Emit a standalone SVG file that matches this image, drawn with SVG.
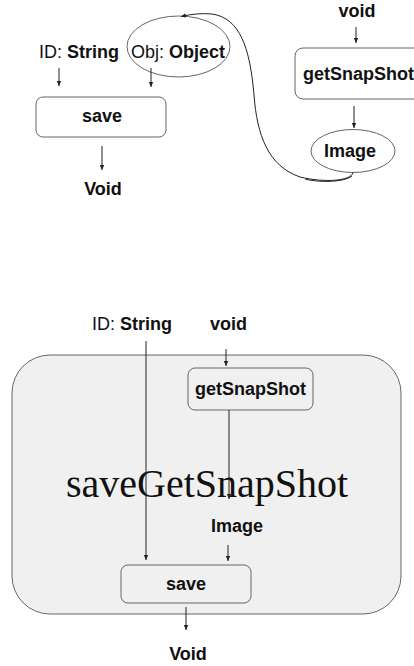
<svg xmlns="http://www.w3.org/2000/svg" width="414" height="666" viewBox="0 0 414 666">
<defs>
<marker id="ah" markerWidth="6" markerHeight="6" refX="5" refY="3" orient="auto" markerUnits="userSpaceOnUse">
<path d="M0,0.8 L5,3 L0,5.2 Z" fill="#222"/>
</marker>
<style>
.t{font-family:"Liberation Sans",Arial,sans-serif;font-size:18px;fill:#111}
.b{font-weight:bold}
.box{fill:#fff;stroke:#666;stroke-width:1}
.gbox{fill:#f0f0f0;stroke:#666;stroke-width:1}
.c{stroke:#222;stroke-width:1;fill:none}
.a{stroke:#222;stroke-width:1;fill:none;marker-end:url(#ah)}
</style>
</defs>
<rect width="414" height="666" fill="#fff"/>
<!-- top diagram -->
<g id="idString1"><text class="t" x="39" y="58">ID: <tspan class="b">String</tspan></text></g>
<g id="objEllipse"><ellipse cx="178.5" cy="46.5" rx="51.5" ry="30.5" fill="none" stroke="#666"/><text class="t" x="131" y="58">Obj: <tspan class="b">Object</tspan></text></g>
<g id="save1"><rect class="box" x="36" y="97" width="130" height="40" rx="7"/><text class="t b" x="102" y="122" text-anchor="middle">save</text></g>
<g id="void1out"><text class="t b" x="103" y="195" text-anchor="middle">Void</text></g>
<g id="void1in"><text class="t b" x="357" y="17" text-anchor="middle">void</text></g>
<g id="getSnap1"><rect class="box" x="295" y="48" width="130" height="51" rx="8"/><text class="t b" x="303" y="80">getSnapShot</text></g>
<g id="image1"><ellipse cx="353" cy="151" rx="42" ry="21.5" fill="none" stroke="#666"/><text class="t b" x="350" y="157" text-anchor="middle">Image</text></g>
<!-- bottom diagram -->
<g id="composite"><rect class="gbox" x="12" y="355" width="389" height="259" rx="38"/><text x="66" y="497" font-family="'Liberation Serif','Times New Roman',serif" font-size="40" fill="#111">saveGetSnapShot</text></g>
<g id="idString2"><text class="t" x="92" y="330">ID: <tspan class="b">String</tspan></text></g>
<g id="void2in"><text class="t b" x="210" y="330">void</text></g>
<g id="getSnap2"><rect class="gbox" x="188" y="368" width="125" height="42" rx="7"/><text class="t b" x="250.5" y="395" text-anchor="middle">getSnapShot</text></g>
<g id="image2"><text class="t b" x="237" y="532" text-anchor="middle">Image</text></g>
<g id="save2"><rect class="gbox" x="121" y="565" width="130" height="38" rx="7"/><text class="t b" x="186" y="590" text-anchor="middle">save</text></g>
<g id="void2out"><text class="t b" x="188" y="660" text-anchor="middle">Void</text></g>
<g id="connectors">
<line class="a" x1="59" y1="68" x2="59" y2="86"/>
<line class="a" x1="151" y1="68" x2="151" y2="87"/>
<line class="a" x1="102" y1="146" x2="102" y2="170"/>
<line class="a" x1="356" y1="27" x2="356" y2="43"/>
<line class="a" x1="354" y1="106" x2="354" y2="128"/>
<path class="a" d="M353,172.5 C351,181 325,183 300,177 C268,166 257,135 254,95 C250,48 240,18 212,14 C202,13 192,14 181,16.5"/>
<path class="c" stroke="#555" d="M352,176 C345,182 320,183 305,179"/>
<line class="a" x1="226" y1="349" x2="226" y2="366"/>
<line class="a" x1="146" y1="341" x2="146" y2="560"/>
<line class="a" x1="229" y1="410" x2="229" y2="499"/>
<line class="a" x1="228" y1="545" x2="228" y2="561"/>
<line class="a" x1="186" y1="607" x2="186" y2="630"/>
</g>
</svg>
